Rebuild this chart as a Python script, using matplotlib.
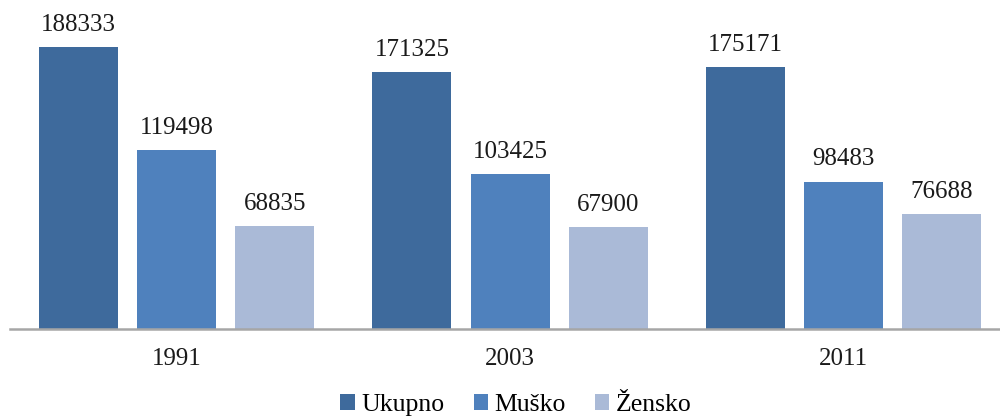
import matplotlib
matplotlib.use("Agg")
import matplotlib.pyplot as plt
from matplotlib.patches import Patch
import numpy as np

years = ["1991", "2003", "2011"]
series_names = ["Ukupno", "Muško", "Žensko"]
ukupno = [188333, 171325, 175171]
musko = [119498, 103425, 98483]
zensko = [68835, 67900, 76688]
colors = ["#3E6A9C", "#4F81BD", "#AABAD7"]

plt.rcParams['font.family'] = ['Liberation Serif', 'DejaVu Serif']

fig = plt.figure(figsize=(10, 4.16), dpi=100)
ax = fig.add_axes([10/1000, (416-329)/416, 1000/1000, 299.5/416])

x = np.arange(len(years))
w = 0.237
step = 0.294
for i, (vals, c, name) in enumerate(zip([ukupno, musko, zensko], colors, series_names)):
    bars = ax.bar(x + (i-1)*step, vals, width=w, color=c, label=name, zorder=2)
    for b, v in zip(bars, vals):
        ax.annotate(str(v), (b.get_x()+b.get_width()/2, v), xytext=(0, 8),
                    textcoords="offset points", ha="center", va="bottom",
                    fontsize=18, color="#1a1a1a", annotation_clip=False)

ax.set_xlim(-0.5, 2.5)
ax.set_ylim(0, 200000)
ax.set_yticks([])
for s in ["top", "right", "left"]:
    ax.spines[s].set_visible(False)
ax.spines["bottom"].set_color("#A6A6A6")
ax.spines["bottom"].set_linewidth(1.8)
ax.set_xticks(x)
ax.set_xticklabels(years, fontsize=18, color="#1a1a1a")
ax.tick_params(axis="x", length=0, pad=14)

handles = [Patch(facecolor=c, label=n) for c, n in zip(colors, series_names)]
fig.legend(handles=handles, loc="center", bbox_to_anchor=(0.516, 1-405/416), ncol=3,
           frameon=False, fontsize=18.5, handlelength=0.55, handleheight=0.55,
           handletextpad=0.25, columnspacing=1.15)

fig.savefig("out.png", dpi=100)
